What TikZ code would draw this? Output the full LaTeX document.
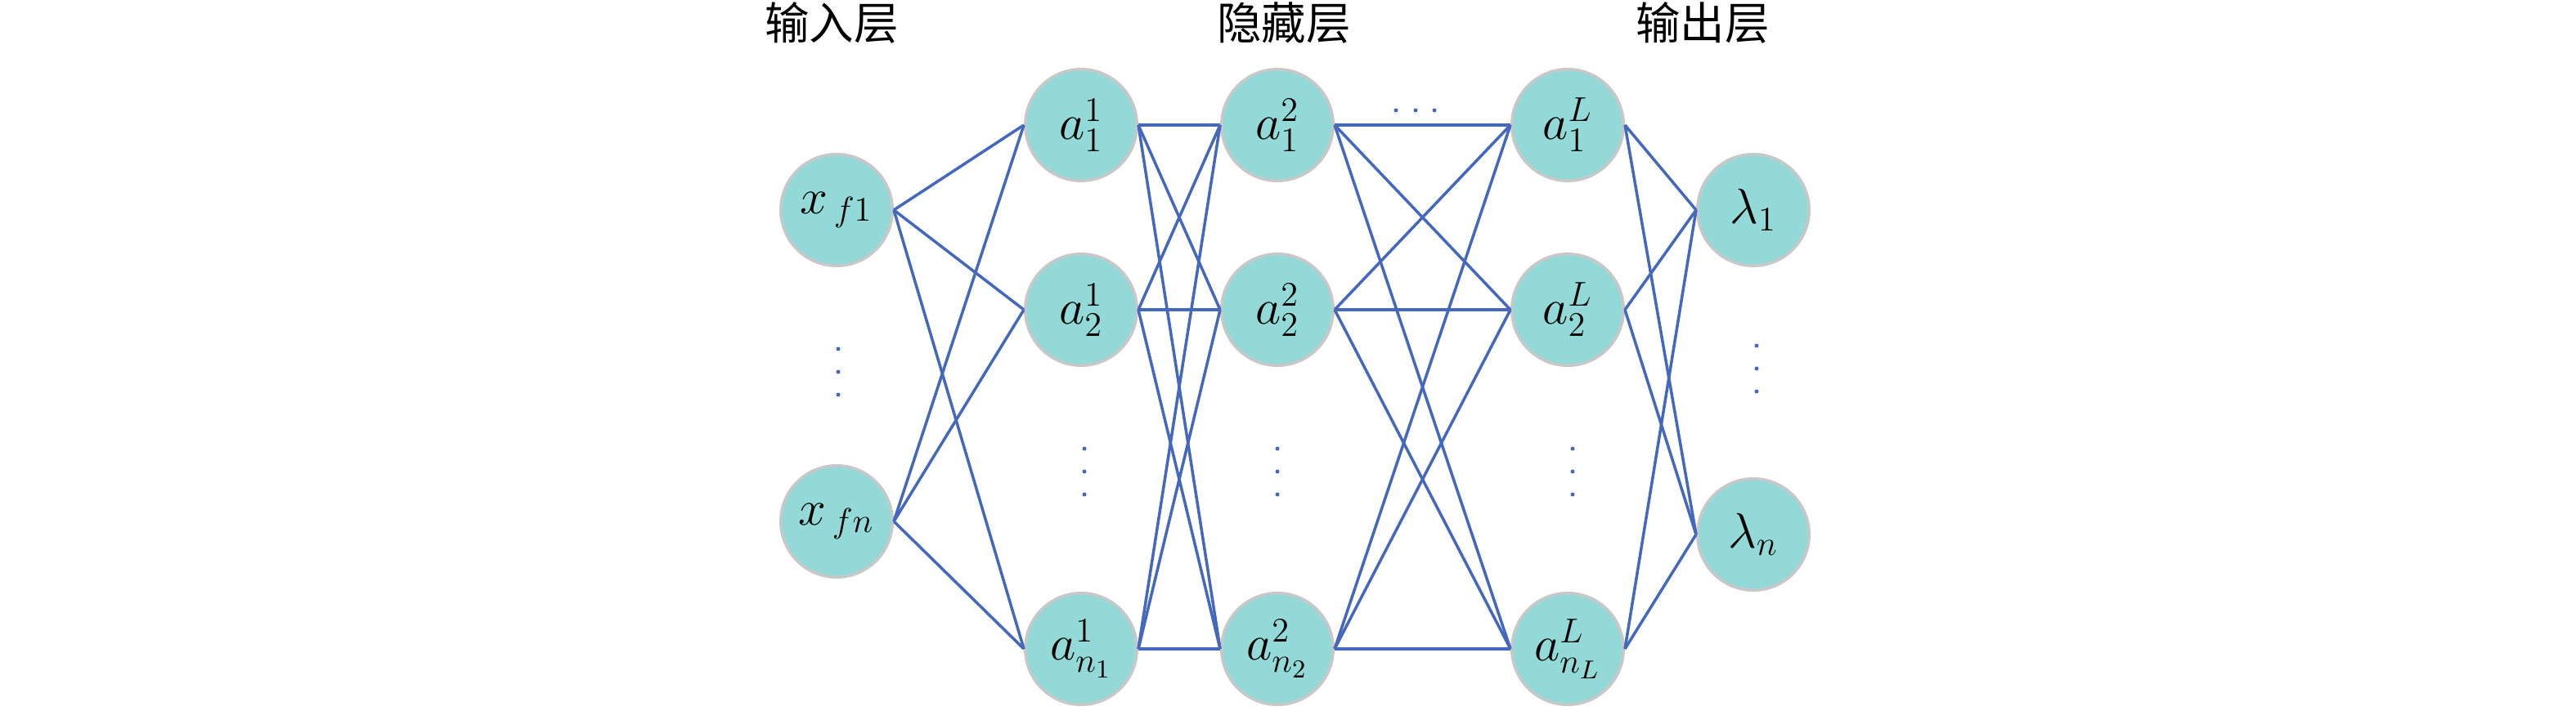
\documentclass[tikz,border=0pt]{standalone}
\usepackage{fontspec}
\newfontfamily\cjk{Noto Sans CJK SC}
\definecolor{nodefill}{HTML}{92D9D7}
\definecolor{nodeline}{HTML}{C8C8C8}
\definecolor{edgeblue}{HTML}{4568BF}
\begin{document}
\begin{tikzpicture}[
    neuron/.style={circle,draw=nodeline,fill=nodefill,line width=1pt,minimum size=1.365cm,inner sep=0pt,font=\fontsize{17.5}{21}\selectfont},
    layer/.style={font=\cjk\fontsize{15.5}{18}\selectfont,inner sep=0pt},
    link/.style={draw=edgeblue,line width=1pt}]
    \useasboundingbox (0,0) rectangle (31.5,-8.7);
    % Titles
    \node[layer] (tin) at (10.17,-0.28){输入层};
    \node[layer] (thid) at (15.70,-0.28){隐藏层};
    \node[layer] (tout) at (20.82,-0.28){输出层};
    % Nodes
    \node[neuron] (X1) at (10.23,-2.57){$x_{\,f1}$};
    \node[neuron] (Xn) at (10.23,-6.38){$x_{\,fn}$};
    \node[neuron] (A11) at (13.22,-1.53){$a_1^1$};
    \node[neuron] (A21) at (13.22,-3.79){$a_2^1$};
    \node[neuron] (An1) at (13.22,-7.94){$a_{n_1}^1$};
    \node[neuron] (A12) at (15.62,-1.53){$a_1^2$};
    \node[neuron] (A22) at (15.62,-3.79){$a_2^2$};
    \node[neuron] (An2) at (15.62,-7.94){$a_{n_2}^2$};
    \node[neuron] (A1L) at (19.17,-1.53){$a_1^L$};
    \node[neuron] (A2L) at (19.17,-3.79){$a_2^L$};
    \node[neuron] (AnL) at (19.17,-7.94){$a_{n_L}^L$};
    \node[neuron] (L1) at (21.44,-2.57){$\lambda_1$};
    \node[neuron] (Ln) at (21.44,-6.54){$\lambda_n$};
    % Edges
    \path[link] (X1.east) to (A11.west);
    \path[link] (X1.east) to (A21.west);
    \path[link] (X1.east) to (An1.west);
    \path[link] (Xn.east) to (A11.west);
    \path[link] (Xn.east) to (A21.west);
    \path[link] (Xn.east) to (An1.west);
    \path[link] (A11.east) to (A12.west);
    \path[link] (A11.east) to (A22.west);
    \path[link] (A11.east) to (An2.west);
    \path[link] (A21.east) to (A12.west);
    \path[link] (A21.east) to (A22.west);
    \path[link] (A21.east) to (An2.west);
    \path[link] (An1.east) to (A12.west);
    \path[link] (An1.east) to (A22.west);
    \path[link] (An1.east) to (An2.west);
    \path[link] (A12.east) to (A1L.west);
    \path[link] (A12.east) to (A2L.west);
    \path[link] (A12.east) to (AnL.west);
    \path[link] (A22.east) to (A1L.west);
    \path[link] (A22.east) to (A2L.west);
    \path[link] (A22.east) to (AnL.west);
    \path[link] (An2.east) to (A1L.west);
    \path[link] (An2.east) to (A2L.west);
    \path[link] (An2.east) to (AnL.west);
    \path[link] (A1L.east) to (L1.west);
    \path[link] (A1L.east) to (Ln.west);
    \path[link] (A2L.east) to (L1.west);
    \path[link] (A2L.east) to (Ln.west);
    \path[link] (AnL.east) to (L1.west);
    \path[link] (AnL.east) to (Ln.west);
    % Dots
    \fill[edgeblue] (10.25,-4.27) circle (0.025) (10.25,-4.55) circle (0.025) (10.25,-4.83) circle (0.025);
    \fill[edgeblue] (13.26,-5.49) circle (0.025) (13.26,-5.77) circle (0.025) (13.26,-6.05) circle (0.025);
    \fill[edgeblue] (15.62,-5.49) circle (0.025) (15.62,-5.77) circle (0.025) (15.62,-6.05) circle (0.025);
    \fill[edgeblue] (19.23,-5.49) circle (0.025) (19.23,-5.77) circle (0.025) (19.23,-6.05) circle (0.025);
    \fill[edgeblue] (21.48,-4.23) circle (0.025) (21.48,-4.51) circle (0.025) (21.48,-4.79) circle (0.025);
    \fill[edgeblue] (17.07,-1.35) circle (0.025) (17.31,-1.35) circle (0.025) (17.54,-1.35) circle (0.025);
\end{tikzpicture}
\end{document}
